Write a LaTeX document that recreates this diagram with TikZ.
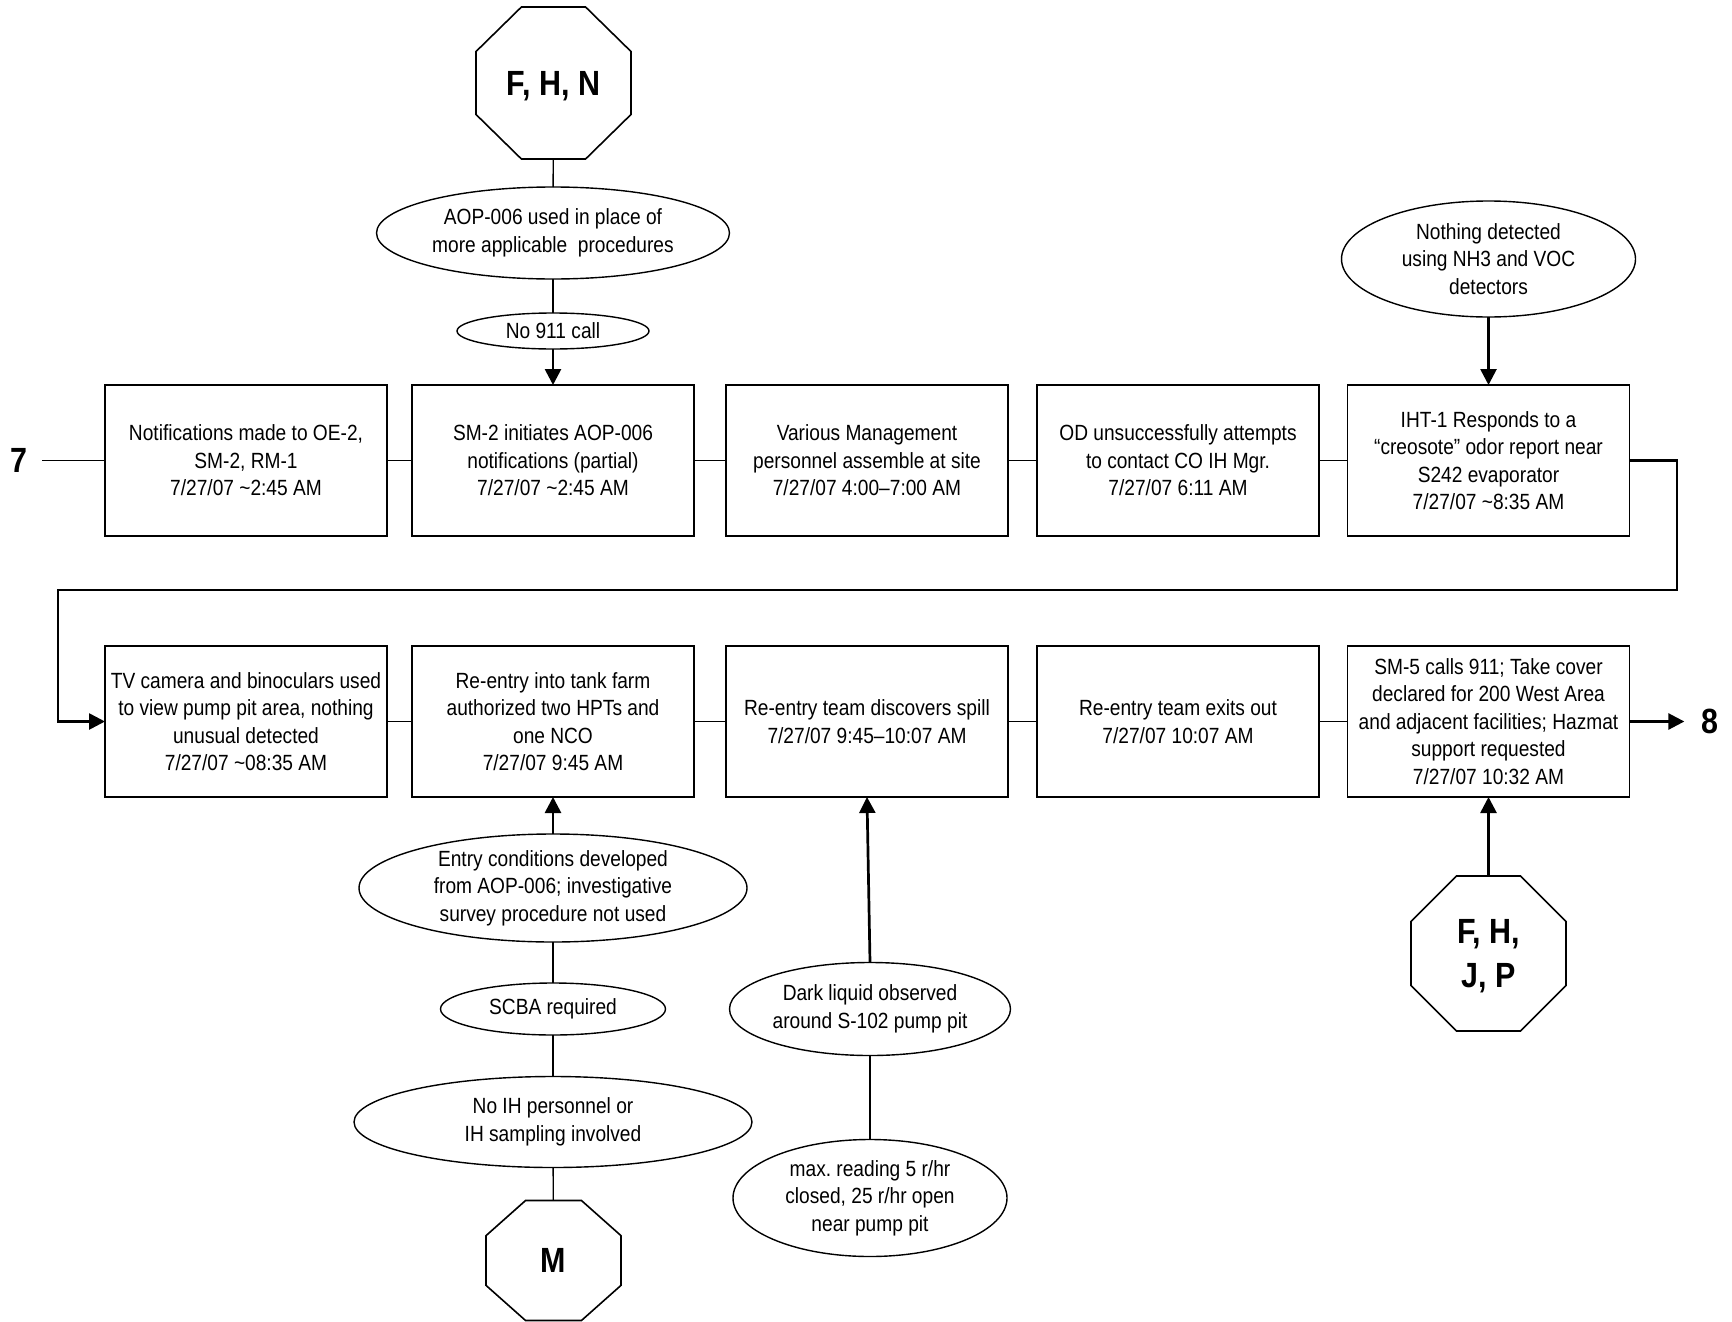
\documentclass[tikz,border=0pt]{standalone}
\usepackage{fontspec}
\setmainfont[FakeStretch=0.87]{Liberation Sans}
\usetikzlibrary{shapes.geometric,arrows.meta,calc}
\frenchspacing

\begin{document}
\begin{tikzpicture}[x=1pt,y=-1pt,
  txt/.style={font=\fontsize{22}{27.5}\selectfont, align=center},
  event/.style={txt, draw, line width=1.7pt, rectangle, minimum width=282pt,
    minimum height=151pt, inner sep=0pt, outer sep=0pt},
  cond/.style={txt, draw, line width=1.4pt, ellipse, inner sep=0pt, outer sep=0pt},
  octa/.style={font=\fontsize{35}{44}\selectfont\bfseries, align=center,
    inner sep=0pt, outer sep=0pt, text depth=0pt},
  jump/.style={font=\fontsize{35}{40}\selectfont\bfseries, inner sep=0pt},
  link/.style={line width=1.4pt},
  flow/.style={line width=2.7pt, -{Triangle[length=16pt,width=16pt]}},
]
\fill[white] (0,0) rectangle (1732,1322);
\useasboundingbox (0,0) rectangle (1732,1322);

% off-page connectors
\node[jump] (l7) at (18.5,460.5) {7};
\node[jump] (l8) at (1710,721.5) {8};

% upper row of events
\node[event] (b1) at (246,460.5) {Notifications made to OE-2,\\SM-2, RM-1\\7/27/07 \textasciitilde 2:45 AM};
\node[event] (b2) at (553,460.5) {SM-2 initiates AOP-006\\notifications (partial)\\7/27/07 \textasciitilde 2:45 AM};
\node[event] (b3) at (867,460.5) {Various Management\\personnel assemble at site\\7/27/07 4:00–7:00 AM};
\node[event] (b4) at (1178,460.5) {OD unsuccessfully attempts\\to contact CO IH Mgr.\\7/27/07 6:11 AM};
\node[event] (b5) at (1488.5,460.5) {IHT-1 Responds to a\\“creosote” odor report near\\S242 evaporator\\7/27/07 \textasciitilde 8:35 AM};

% lower row of events
\node[event] (b6) at (246,721.5) {TV camera and binoculars used\\to view pump pit area, nothing\\unusual detected\\7/27/07 \textasciitilde 08:35 AM};
\node[event] (b7) at (553,721.5) {Re-entry into tank farm\\authorized two HPTs and\\one NCO\\7/27/07 9:45 AM};
\node[event] (b8) at (867,721.5) {Re-entry team discovers spill\\7/27/07 9:45–10:07 AM};
\node[event] (b9) at (1178,721.5) {Re-entry team exits out\\7/27/07 10:07 AM};
\node[event] (b10) at (1488.5,721.5) {SM-5 calls 911; Take cover\\declared for 200 West Area\\and adjacent facilities; Hazmat\\support requested\\7/27/07 10:32 AM};

% conditions
\node[cond, minimum width=353pt, minimum height=92pt] (aop) at (553,233) {AOP-006 used in place of\\more applicable\ \ procedures};
\node[cond, minimum width=192pt, minimum height=36pt] (n911) at (553,331) {No 911 call};
\node[cond, minimum width=294pt, minimum height=116pt] (nd) at (1488.5,259) {Nothing detected\\using NH3 and VOC\\detectors};
\node[cond, minimum width=388pt, minimum height=108pt] (entry) at (553,888) {Entry conditions developed\\from AOP-006; investigative\\survey procedure not used};
\node[cond, minimum width=225pt, minimum height=52pt] (scba) at (553,1009) {SCBA required};
\node[cond, minimum width=398pt, minimum height=91pt] (noih) at (553,1122) {No IH personnel or\\IH sampling involved};
\node[cond, minimum width=281pt, minimum height=93pt] (dark) at (870,1009) {Dark liquid observed\\around S-102 pump pit};
\node[cond, minimum width=274pt, minimum height=117pt] (maxr) at (870,1198) {max. reading 5 r/hr\\closed, 25 r/hr open\\near pump pit};

% causal factor octagons
\node[octa, minimum width=155pt, minimum height=152pt] (fhn) at (553.5,83) {F, H, N};
\node[octa, minimum width=155pt, minimum height=155pt] (fhjp) at (1488.5,953.5) {F, H,\\J, P};
\node[octa, minimum width=135pt, minimum height=120pt] (m) at (553.5,1260.5) {M};
\foreach \o in {fhn,fhjp,m}
  \draw[line width=1.6pt]
    ($(\o.north west)!0.293!(\o.north east)$) -- ($(\o.north east)!0.293!(\o.north west)$)
    -- ($(\o.north east)!0.293!(\o.south east)$) -- ($(\o.south east)!0.293!(\o.north east)$)
    -- ($(\o.south east)!0.293!(\o.south west)$) -- ($(\o.south west)!0.293!(\o.south east)$)
    -- ($(\o.south west)!0.293!(\o.north west)$) -- ($(\o.north west)!0.293!(\o.south west)$)
    -- cycle;

% event chain
\draw[link, shorten <=15pt] (l7) -- (b1);
\draw[link] (b1) -- (b2);
\draw[link] (b2) -- (b3);
\draw[link] (b3) -- (b4);
\draw[link] (b4) -- (b5);
\coordinate (turnR) at (1677,590);
\coordinate (turnL) at (58,590);
\draw[flow] (b5.east) -| (turnR) -- (turnL) |- (b6.west);
\draw[link] (b6) -- (b7);
\draw[link] (b7) -- (b8);
\draw[link] (b8) -- (b9);
\draw[link] (b9) -- (b10);
\draw[flow, shorten >=17pt] (b10) -- (l8);

% conditions feeding the events
\draw[link] (fhn) -- (aop);
\draw[link] (aop) -- (n911);
\draw[flow] (n911) -- (b2);
\draw[flow] (nd) -- (b5);
\draw[flow] (entry) -- (b7);
\draw[link] (entry) -- (scba);
\draw[link] (scba) -- (noih);
\draw[link] (noih) -- (m);
\draw[flow] (dark.north) -- (b8.south);
\draw[link] (dark) -- (maxr);
\draw[flow] (fhjp) -- (b10);
\end{tikzpicture}
\end{document}
